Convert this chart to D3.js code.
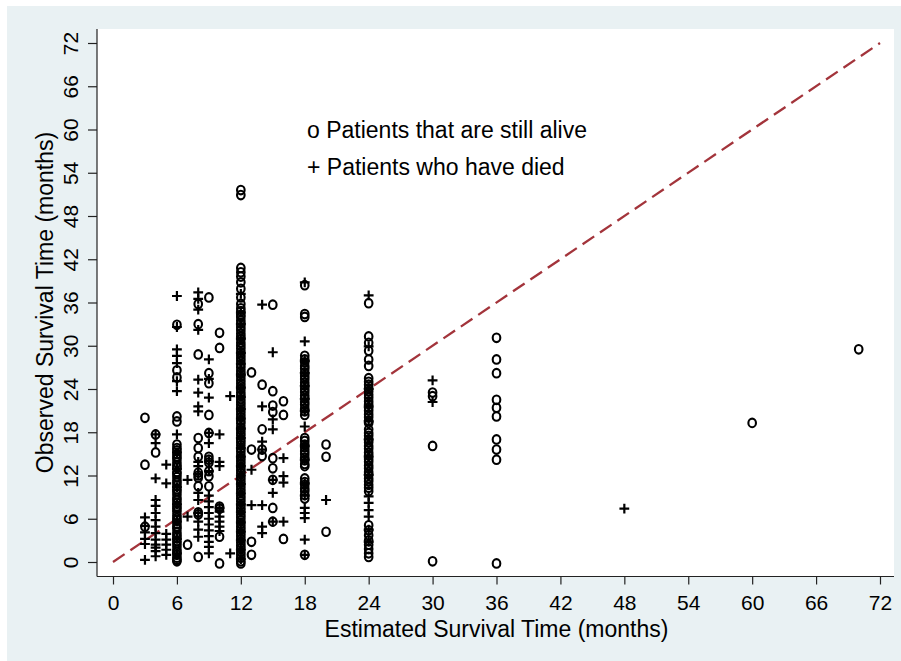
<!DOCTYPE html>
<html>
<head>
<meta charset="utf-8">
<script src="https://cdn.jsdelivr.net/npm/d3@7"></script>
<style>
  html, body { margin: 0; padding: 0; background: #ffffff; }
  svg { display: block; }
  text { font-family: "Liberation Sans", Arial, Helvetica, sans-serif; fill: #000; }
</style>
</head>
<body>
<svg id="chart" width="901" height="661"></svg>
<script>
// Axis ticks (months)
const xTicks = [0, 6, 12, 18, 24, 30, 36, 42, 48, 54, 60, 66, 72];
const yTicks = [0, 6, 12, 18, 24, 30, 36, 42, 48, 54, 60, 66, 72];

const xTitle = "Estimated Survival Time (months)";
const yTitle = "Observed Survival Time (months)";
const legendLabels = ["o Patients that are still alive", "+ Patients who have died"];

// Line of perfect agreement: observed = estimated
const agreementLine = [[0, 0], [72, 72]];

// [estimated, observed] survival in months, censored patients
const alivePatients = [
  [3, 20.0], [3, 13.5], [3, 4.9],
  [4, 17.7], [4, 15.2],
  [6, 32.9], [6, 26.6], [6, 25.6], [6, 20.2], [6, 19.5],
  [6, 16.3], [6, 15.8], [6, 15.5], [6, 15.0], [6, 14.6], [6, 14.3], [6, 13.8], [6, 13.4], [6, 13.1],
  [6, 12.5], [6, 12.2], [6, 11.8], [6, 11.3], [6, 11.0], [6, 10.6], [6, 10.1], [6, 9.8], [6, 9.4],
  [6, 8.9], [6, 8.6], [6, 8.2], [6, 7.7], [6, 7.4], [6, 7.0], [6, 6.5], [6, 6.1], [6, 5.8], [6, 5.3],
  [6, 4.9], [6, 4.6], [6, 4.1], [6, 3.7], [6, 3.4], [6, 2.9], [6, 2.6], [6, 2.2], [6, 1.7], [6, 1.4],
  [6, 1.0], [6, 0.6], [6, 0.3], [6, 0.1],
  [7, 2.4],
  [8, 35.8], [8, 33.0], [8, 28.8], [8, 17.2], [8, 15.8], [8, 14.6], [8, 12.4], [8, 12.0], [8, 11.7],
  [8, 10.5], [8, 6.9], [8, 6.6], [8, 0.7],
  [9, 36.7], [9, 26.2], [9, 24.8], [9, 20.4], [9, 17.9], [9, 14.6], [9, 14.2], [9, 13.8], [9, 12.6],
  [9, 11.9], [9, 10.5],
  [10, 31.8], [10, 29.7], [10, 7.7], [10, 7.4], [10, 3.5], [10, -0.2],
  [12, 51.6], [12, 50.9], [12, 40.8], [12, 40.2], [12, 39.6], [12, 38.8], [12, 37.9], [12, 36.7], [12, 35.8],
  [12, 35.2], [12, 34.8], [12, 34.3], [12, 34.0], [12, 33.5], [12, 33.1], [12, 32.6], [12, 32.2], [12, 31.7],
  [12, 31.3], [12, 30.9], [12, 30.4], [12, 30.0], [12, 29.6], [12, 29.1], [12, 28.7], [12, 28.3], [12, 27.9],
  [12, 27.4], [12, 27.0], [12, 26.5], [12, 26.1], [12, 25.7], [12, 25.2], [12, 24.8], [12, 24.4], [12, 24.0],
  [12, 23.5], [12, 23.1], [12, 22.6], [12, 22.2], [12, 21.8], [12, 21.4], [12, 20.9], [12, 20.5], [12, 20.1],
  [12, 19.6], [12, 19.2], [12, 18.7], [12, 18.3], [12, 17.9], [12, 17.5], [12, 17.0], [12, 16.6], [12, 16.2],
  [12, 15.7], [12, 15.3], [12, 14.8], [12, 14.4], [12, 14.0], [12, 13.6], [12, 13.1], [12, 12.7], [12, 12.3],
  [12, 11.8], [12, 11.4], [12, 11.0], [12, 10.5], [12, 10.1], [12, 9.7], [12, 9.2], [12, 8.8], [12, 8.4],
  [12, 7.9], [12, 7.5], [12, 7.1], [12, 6.6], [12, 6.2], [12, 5.8], [12, 5.3], [12, 4.9], [12, 4.5],
  [12, 4.0], [12, 3.6], [12, 3.2], [12, 2.7], [12, 2.3], [12, 1.9], [12, 1.4], [12, 1.0], [12, 0.6],
  [12, 0.1], [12, -0.2],
  [13, 26.3], [13, 15.6], [13, 2.8], [13, 1.0],
  [14, 24.6], [14, 18.4], [14, 15.6], [14, 14.7],
  [15, 35.7], [15, 23.7], [15, 21.7], [15, 20.8], [15, 14.4], [15, 13.0], [15, 11.4], [15, 7.5], [15, 5.6],
  [16, 22.3], [16, 20.4], [16, 3.2],
  [18, 38.4], [18, 34.4], [18, 34.0],
  [18, 28.6], [18, 28.1], [18, 27.7], [18, 27.2], [18, 26.8], [18, 26.3], [18, 25.8], [18, 25.4], [18, 24.9],
  [18, 24.5], [18, 24.0], [18, 23.6], [18, 23.1], [18, 22.7], [18, 22.2], [18, 21.8], [18, 21.3], [18, 20.9],
  [18, 20.4], [18, 17.2], [18, 16.8], [18, 16.3], [18, 15.9], [18, 15.4], [18, 15.0], [18, 14.5], [18, 14.1],
  [18, 13.6], [18, 13.3], [18, 11.6], [18, 11.1], [18, 10.7], [18, 10.2], [18, 9.8], [18, 9.3], [18, 8.8],
  [18, 1.0],
  [20, 16.3], [20, 14.6], [20, 4.2],
  [24, 35.9], [24, 31.3], [24, 30.4], [24, 29.3], [24, 28.1], [24, 27.2],
  [24, 25.5], [24, 25.0], [24, 24.6], [24, 24.1], [24, 23.7], [24, 23.2], [24, 22.8], [24, 22.3], [24, 21.9],
  [24, 21.4], [24, 21.0], [24, 20.5], [24, 20.1], [24, 19.6], [24, 19.3],
  [24, 18.4], [24, 17.9], [24, 17.5], [24, 17.0], [24, 16.6], [24, 16.1], [24, 15.7], [24, 15.2], [24, 14.8],
  [24, 14.3], [24, 13.9], [24, 13.4], [24, 13.0], [24, 12.5], [24, 12.1], [24, 11.6], [24, 11.2], [24, 10.7],
  [24, 10.3], [24, 9.8],
  [24, 5.1], [24, 4.4], [24, 3.7], [24, 3.0], [24, 2.4], [24, 1.8], [24, 1.2], [24, 0.7],
  [30, 23.5], [30, 23.0], [30, 16.1], [30, 0.1],
  [36, 31.1], [36, 28.1], [36, 26.2], [36, 22.5], [36, 21.4], [36, 20.2], [36, 17.0], [36, 15.6], [36, 14.2],
  [36, -0.2],
  [60, 19.3],
  [70, 29.5]
];

// [estimated, observed] survival in months, patients who died
const diedPatients = [
  [3, 6.2], [3, 5.0], [3, 4.1], [3, 3.2], [3, 2.5], [3, 0.3],
  [4, 17.7], [4, 16.5], [4, 11.6], [4, 8.6], [4, 7.8], [4, 6.8], [4, 5.8], [4, 4.9], [4, 4.0], [4, 3.1],
  [4, 2.4], [4, 2.0], [4, 1.5], [4, 0.8],
  [5, 13.5], [5, 10.9], [5, 3.9], [5, 3.1], [5, 2.4], [5, 1.7], [5, 1.0],
  [6, 36.9], [6, 32.6], [6, 29.5], [6, 28.6], [6, 27.6], [6, 25.1], [6, 23.7], [6, 17.7], [6, 15.2],
  [6, 12.9], [6, 10.4], [6, 8.0], [6, 5.6], [6, 3.2], [6, 1.2],
  [7, 11.4], [7, 6.3],
  [8, 37.4], [8, 36.5], [8, 35.0], [8, 32.2], [8, 25.3], [8, 23.5], [8, 21.6], [8, 20.9], [8, 13.9],
  [8, 13.3], [8, 12.2], [8, 9.6], [8, 8.6], [8, 6.8], [8, 5.6], [8, 4.5], [8, 3.5],
  [9, 28.1], [9, 25.4], [9, 22.8], [9, 17.9], [9, 16.5], [9, 14.0], [9, 12.6], [9, 9.2], [9, 8.4],
  [9, 7.6], [9, 6.8], [9, 6.0], [9, 5.2], [9, 4.4], [9, 3.6], [9, 2.8], [9, 2.1], [9, 1.2],
  [10, 17.7], [10, 13.9], [10, 13.3], [10, 7.5], [10, 7.0], [10, 6.3], [10, 5.6], [10, 4.9], [10, 4.3],
  [11, 23.0], [11, 1.2],
  [12, 37.2], [12, 34.6], [12, 33.0], [12, 31.0], [12, 29.0], [12, 27.5], [12, 26.0], [12, 24.2], [12, 22.9],
  [12, 21.2], [12, 19.9], [12, 18.5], [12, 17.2], [12, 15.8], [12, 14.6], [12, 13.3], [12, 12.0], [12, 10.8],
  [12, 9.5], [12, 8.0], [12, 6.9], [12, 5.5], [12, 4.2], [12, 3.0], [12, 1.7], [12, 0.4],
  [13, 12.8], [13, 7.9],
  [14, 35.7], [14, 21.6], [14, 16.7], [14, 15.6], [14, 7.9], [14, 4.9], [14, 4.0],
  [15, 29.1], [15, 19.8], [15, 18.4], [15, 11.4], [15, 9.6], [15, 5.6],
  [16, 14.4], [16, 11.9], [16, 11.0], [16, 5.6],
  [18, 38.8], [18, 30.6], [18, 27.9], [18, 26.2], [18, 24.4], [18, 22.6], [18, 21.0], [18, 18.8], [18, 16.1],
  [18, 14.2], [18, 10.9], [18, 9.2], [18, 7.5], [18, 6.8], [18, 6.1], [18, 3.1], [18, 1.0],
  [20, 8.6],
  [24, 37.0], [24, 29.9], [24, 24.0], [24, 21.6], [24, 19.5], [24, 17.0], [24, 14.6], [24, 12.1], [24, 9.1],
  [24, 8.2], [24, 7.2], [24, 6.3], [24, 4.5], [24, 2.8],
  [30, 25.2], [30, 22.2],
  [48, 7.4]
];

const W = 901, H = 661;
const svg = d3.select("#chart");

// Graph background and white plot region
svg.append("rect").attr("x", 7).attr("y", 6).attr("width", W - 7).attr("height", H - 6).attr("fill", "#e9f1f3");
const region = { left: 97, right: 894, top: 29, bottom: 576.5 };
svg.append("rect")
  .attr("x", region.left).attr("y", region.top)
  .attr("width", region.right - region.left).attr("height", region.bottom - region.top)
  .attr("fill", "#ffffff");

const x = d3.scaleLinear().domain([0, 72]).range([113, 880]);
const y = d3.scaleLinear().domain([0, 72]).range([562, 43]);

// Dashed line of agreement
svg.append("path")
  .datum(agreementLine)
  .attr("d", d3.line().x(d => x(d[0])).y(d => y(d[1])))
  .attr("fill", "none")
  .attr("stroke", "#a3343b")
  .attr("stroke-width", 2.3)
  .attr("stroke-dasharray", "14,7");

// Markers
const marks = svg.append("g");
marks.selectAll("ellipse.alive")
  .data(alivePatients)
  .join("ellipse")
  .attr("class", "alive")
  .attr("cx", d => x(d[0]))
  .attr("cy", d => y(d[1]))
  .attr("rx", 3.8)
  .attr("ry", 4.3)
  .attr("fill", "none")
  .attr("stroke", "#000")
  .attr("stroke-width", 2.1);

marks.selectAll("path.died")
  .data(diedPatients)
  .join("path")
  .attr("class", "died")
  .attr("transform", d => `translate(${x(d[0])},${y(d[1])})`)
  .attr("d", "M-4.9,0H4.9M0,-4.9V4.9")
  .attr("stroke", "#000")
  .attr("stroke-width", 2.2);

// X axis
const xAxis = svg.append("g")
  .attr("transform", `translate(0,${region.bottom})`)
  .call(d3.axisBottom(x).tickValues(xTicks).tickSize(8).tickPadding(11).tickSizeOuter(0));
xAxis.select(".domain").remove();
xAxis.attr("font-family", null);
xAxis.selectAll(".tick line").attr("stroke", "#222").attr("stroke-width", 1.2);
xAxis.selectAll(".tick text").attr("font-size", 21).attr("fill", "#000");
svg.append("line")
  .attr("x1", region.left).attr("x2", region.right)
  .attr("y1", region.bottom).attr("y2", region.bottom)
  .attr("stroke", "#222").attr("stroke-width", 1.2);

// Y axis with vertical tick labels
const yAxis = svg.append("g")
  .attr("transform", `translate(${region.left},0)`)
  .call(d3.axisLeft(y).tickValues(yTicks).tickSize(9).tickSizeOuter(0));
yAxis.select(".domain").remove();
yAxis.attr("font-family", null);
yAxis.selectAll(".tick line").attr("stroke", "#222").attr("stroke-width", 1.2);
yAxis.selectAll(".tick text")
  .attr("x", null).attr("dy", null)
  .attr("text-anchor", "middle")
  .attr("font-size", 21)
  .attr("fill", "#000")
  .attr("transform", "translate(-19,0) rotate(-90)");
svg.append("line")
  .attr("x1", region.left).attr("x2", region.left)
  .attr("y1", region.top).attr("y2", region.bottom)
  .attr("stroke", "#222").attr("stroke-width", 1.2);

// Axis titles
svg.append("text")
  .attr("x", (x(0) + x(72)) / 2).attr("y", 637)
  .attr("text-anchor", "middle").attr("font-size", 23)
  .text(xTitle);
svg.append("text")
  .attr("transform", `translate(53,${(y(0) + y(72)) / 2}) rotate(-90)`)
  .attr("text-anchor", "middle").attr("font-size", 23)
  .text(yTitle);

// Legend text
svg.append("g").selectAll("text")
  .data(legendLabels)
  .join("text")
  .attr("x", 307)
  .attr("y", (d, i) => 138 + i * 37)
  .attr("font-size", 23)
  .text(d => d);
</script>
</body>
</html>
